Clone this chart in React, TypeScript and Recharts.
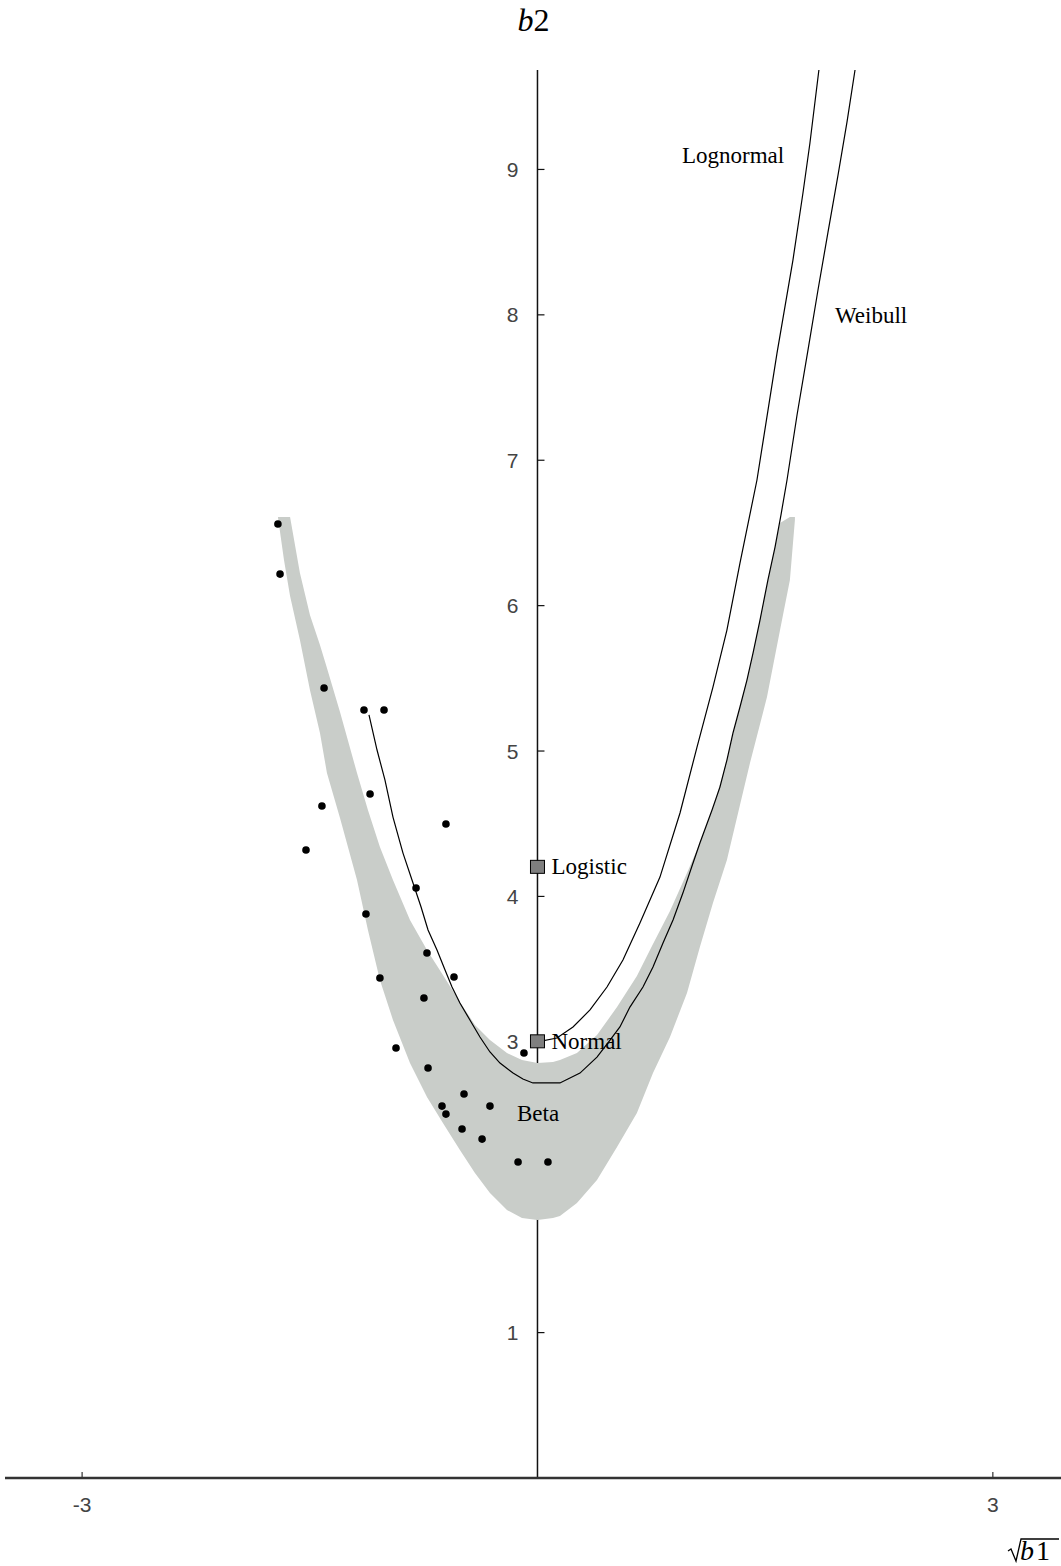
import React from "react";
import {
  ComposedChart,
  XAxis,
  YAxis,
  Line,
  Area,
  Scatter,
  ReferenceLine,
  ReferenceDot,
} from "recharts";

// ---- data (x = sqrt(b1), y = b2) ----
const weibullX = [-1.110, -1.057, -1.005, -0.952, -0.886, -0.820, -0.767, -0.721, -0.662, -0.609, -0.563, -0.511, -0.445, -0.379, -0.313, -0.247, -0.161, -0.096, -0.030, 0.148, 0.280, 0.392, 0.478, 0.543, 0.609, 0.695, 0.761, 0.827, 0.893, 0.958, 1.018, 1.070, 1.150, 1.202, 1.248, 1.288, 1.334, 1.380, 1.420, 1.466, 1.518, 1.565, 1.604, 1.644, 1.710, 1.782, 1.848, 1.914, 1.980, 2.039, 2.092];
const weibullY = [5.248, 5.007, 4.801, 4.546, 4.298, 4.092, 3.927, 3.769, 3.631, 3.494, 3.377, 3.267, 3.150, 3.033, 2.930, 2.854, 2.785, 2.744, 2.717, 2.717, 2.785, 2.895, 3.012, 3.102, 3.239, 3.377, 3.514, 3.680, 3.838, 4.023, 4.209, 4.367, 4.594, 4.752, 4.938, 5.124, 5.303, 5.488, 5.674, 5.901, 6.176, 6.403, 6.623, 6.864, 7.311, 7.758, 8.171, 8.569, 8.961, 9.326, 9.684];

const lognormalX = [0, 0.128, 0.234, 0.346, 0.458, 0.563, 0.675, 0.807, 0.939, 1.051, 1.156, 1.248, 1.334, 1.446, 1.578, 1.683, 1.749, 1.795, 1.854];
const lognormalY = [3.0, 3.026, 3.102, 3.219, 3.377, 3.563, 3.817, 4.133, 4.574, 5.027, 5.44, 5.832, 6.293, 6.864, 7.737, 8.377, 8.838, 9.182, 9.684];

const bandX = [-1.710, -1.670, -1.630, -1.565, -1.499, -1.433, -1.387, -1.301, -1.189, -1.117, -1.038, -0.952, -0.840, -0.728, -0.623, -0.511, -0.412, -0.313, -0.201, -0.102, 0, 0.102, 0.148, 0.260, 0.392, 0.524, 0.655, 0.761, 0.873, 0.985, 1.070, 1.156, 1.248, 1.334, 1.400, 1.512, 1.598, 1.663, 1.696];
const bandLow = [6.609, 6.314, 6.066, 5.763, 5.420, 5.124, 4.849, 4.539, 4.113, 3.769, 3.425, 3.150, 2.854, 2.620, 2.442, 2.256, 2.098, 1.960, 1.843, 1.788, 1.774, 1.788, 1.802, 1.891, 2.050, 2.276, 2.510, 2.785, 3.033, 3.336, 3.652, 3.955, 4.250, 4.629, 4.917, 5.371, 5.832, 6.176, 6.589];
const bandHigh = [6.609, 6.609, 6.609, 6.224, 5.935, 5.729, 5.571, 5.268, 4.849, 4.594, 4.340, 4.113, 3.838, 3.631, 3.459, 3.274, 3.116, 3.012, 2.923, 2.875, 2.854, 2.861, 2.875, 2.923, 3.047, 3.239, 3.453, 3.673, 3.900, 4.161, 4.367, 4.608, 4.938, 5.303, 5.578, 6.142, 6.568, 6.609, 6.609];

const sampleX = [-1.710, -1.696, -1.406, -1.143, -1.011, -1.103, -1.420, -1.525, -0.603, -0.800, -1.130, -0.728, -0.550, -1.038, -0.748, -0.932, -0.721, -0.089, -0.484, -0.313, -0.629, -0.603, -0.497, -0.365, -0.128, 0.069];
const sampleY = [6.561, 6.217, 5.433, 5.282, 5.282, 4.704, 4.622, 4.319, 4.498, 4.058, 3.879, 3.611, 3.446, 3.439, 3.301, 2.957, 2.820, 2.923, 2.641, 2.558, 2.558, 2.503, 2.400, 2.331, 2.173, 2.173];

const markerNames = ["Logistic", "Normal"];
const markerX = [0, 0];
const markerY = [4.2, 3.0];

const curveLabelNames = ["Lognormal", "Weibull", "Beta"];
const curveLabelX = [0.952, 1.96, -0.135];
const curveLabelY = [9.092, 7.992, 2.503];

const xTicks = [-3, 3];
const yTicks = [1, 2, 3, 4, 5, 6, 7, 8, 9];
const xDomain = [-3.508, 3.449];
const yDomain = [0, 9.684];

// ---- tables built from the arrays ----
const weibull = weibullX.map((x, i) => ({ x, y: weibullY[i] }));
const lognormal = lognormalX.map((x, i) => ({ x, y: lognormalY[i] }));
const band = bandX.map((x, i) => ({ x, band: [bandLow[i], bandHigh[i]] }));
const samples = sampleX.map((x, i) => ({ x, y: sampleY[i] }));
const markers = markerNames.map((name, i) => ({ name, x: markerX[i], y: markerY[i] }));
const curveLabels = curveLabelNames.map((name, i) => ({ name, x: curveLabelX[i], y: curveLabelY[i] }));

const SERIF = "'Liberation Serif', 'Times New Roman', serif";
const SANS = "'Liberation Sans Narrow', 'Liberation Sans', Arial, sans-serif";

const XTick = (p: any) => {
  const { x, y, payload } = p;
  return (
    <g>
      <line x1={x} x2={x} y1={y - 6} y2={y} stroke="#333" strokeWidth={1.2} />
      <text x={x} y={y + 34} textAnchor="middle" fontSize={21} fontFamily={SANS} fill="#444">
        {String(payload.value)}
      </text>
    </g>
  );
};

const SqrtB1Label = (p: any) => {
  const vb = p.viewBox || { x: 0, y: 0, width: 0, height: 0 };
  const r = vb.x + vb.width;
  const base = vb.y + 82;
  return (
    <g>
      <polyline
        points={`${r - 53},${base - 9} ${r - 50},${base - 11} ${r - 45},${base + 1} ${r - 40},${base - 21} ${r - 2},${base - 21}`}
        fill="none"
        stroke="#000"
        strokeWidth={1.3}
      />
      <text x={r - 41} y={base} fontSize={28} fontFamily={SERIF} fill="#000">
        <tspan fontStyle="italic">b</tspan>
        <tspan dx={2}>1</tspan>
      </text>
    </g>
  );
};

const B2Label = (p: any) => {
  const vb = p.viewBox || { x: 0, y: 0 };
  return (
    <text x={vb.x - 4} y={vb.y - 39} textAnchor="middle" fontSize={32} fontFamily={SERIF} fill="#000">
      <tspan fontStyle="italic">b</tspan>2
    </text>
  );
};

const makeYTick = (v: number) => (p: any) => {
  const { cx, cy } = p;
  return (
    <g>
      <line x1={cx} x2={cx + 7} y1={cy} y2={cy} stroke="#111" strokeWidth={1.2} />
      <text x={cx - 19} y={cy + 7.5} textAnchor="end" fontSize={21} fontFamily={SANS} fill="#444">
        {String(v)}
      </text>
    </g>
  );
};

const DotShape = (p: any) => <circle cx={p.cx} cy={p.cy} r={3.8} fill="#000" />;

const MarkerShape = (p: any) => (
  <g>
    <rect x={p.cx - 7} y={p.cy - 7} width={14} height={13} fill="#7f7f7f" stroke="#000" strokeWidth={1} />
    <text x={p.cx + 14} y={p.cy + 7} fontSize={23} fontFamily={SERIF} fill="#000">
      {p.payload.name}
    </text>
  </g>
);

const CurveLabelShape = (p: any) => (
  <text x={p.cx} y={p.cy + 7} fontSize={23} fontFamily={SERIF} fill="#000">
    {p.payload.name}
  </text>
);

export default function App() {
  return (
    <div style={{ position: "absolute", left: 0, top: 0, width: 1061, height: 1566, background: "#fff" }}>
      <ComposedChart width={1061} height={1566} margin={{ top: 70, right: 0, left: 5, bottom: 58 }}>
        <XAxis
          type="number"
          dataKey="x"
          domain={xDomain}
          ticks={xTicks}
          interval={0}
          allowDataOverflow
          height={30}
          tickSize={0}
          tickMargin={0}
          tickLine={false}
          axisLine={{ stroke: "#333", strokeWidth: 2.5 }}
          tick={XTick}
          label={{ content: SqrtB1Label }}
        />
        <YAxis type="number" dataKey="y" domain={yDomain} allowDataOverflow hide width={0} />

        <ReferenceLine
          x={0}
          stroke="#111"
          strokeWidth={1.5}
          zIndex={50}
          label={{ content: B2Label }}
        />
        {yTicks.map((v) => (
          <ReferenceDot key={v} x={0} y={v} r={0} zIndex={50} shape={makeYTick(v)} />
        ))}

        <Area
          data={band}
          dataKey="band"
          type="linear"
          stroke="none"
          fill="#c9cdc9"
          fillOpacity={1}
          isAnimationActive={false}
          activeDot={false}
        />
        <Line
          data={lognormal}
          dataKey="y"
          type="linear"
          stroke="#000"
          strokeWidth={1.2}
          dot={false}
          activeDot={false}
          isAnimationActive={false}
        />
        <Line
          data={weibull}
          dataKey="y"
          type="linear"
          stroke="#000"
          strokeWidth={1.2}
          dot={false}
          activeDot={false}
          isAnimationActive={false}
        />
        <Scatter data={samples} shape={DotShape} isAnimationActive={false} />
        <Scatter data={markers} shape={MarkerShape} isAnimationActive={false} />
        <Scatter data={curveLabels} shape={CurveLabelShape} isAnimationActive={false} />
      </ComposedChart>
    </div>
  );
}
